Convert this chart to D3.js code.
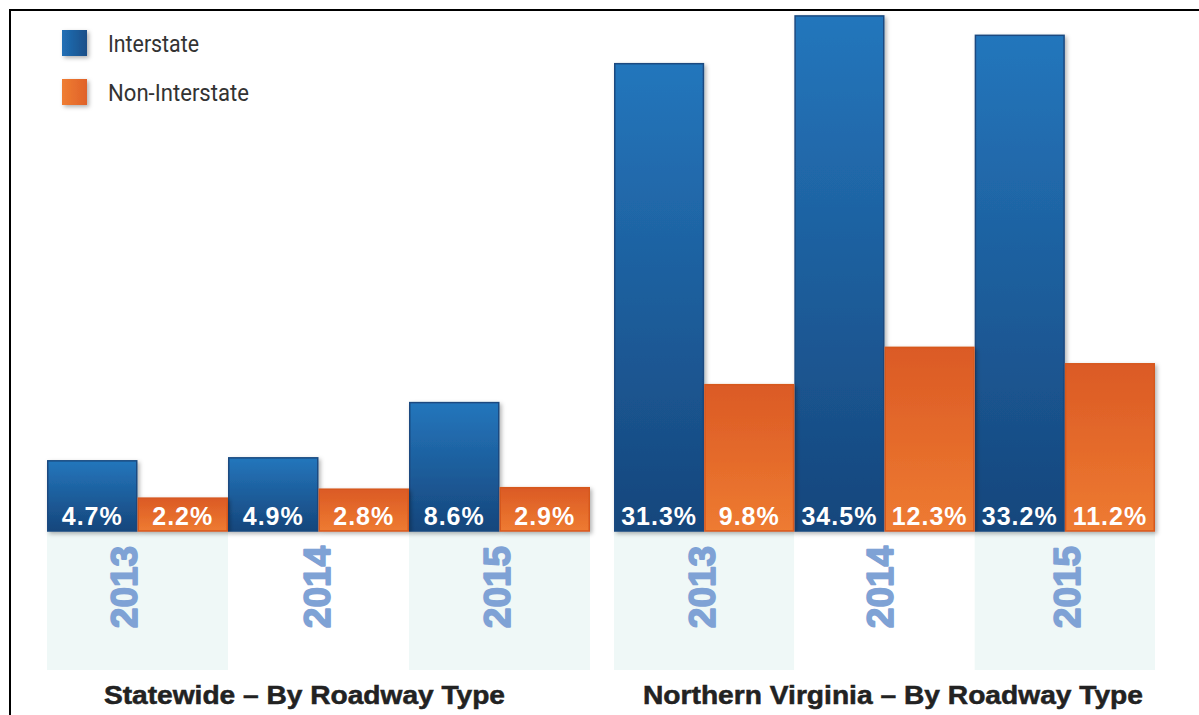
<!DOCTYPE html>
<html><head><meta charset="utf-8">
<script src="https://cdn.jsdelivr.net/npm/d3@7"></script>
<style>html,body{margin:0;padding:0;background:#fff;}svg{display:block;}</style>
</head><body><svg id="c" width="1199" height="715"></svg>
<script>
const years = ["2013", "2014", "2015"];
const seriesNames = ["Interstate", "Non-Interstate"];
const statewideInterstate = [4.7, 4.9, 8.6];
const statewideNonInterstate = [2.2, 2.8, 2.9];
const novaInterstate = [31.3, 34.5, 33.2];
const novaNonInterstate = [9.8, 12.3, 11.2];
const panelTitles = ["Statewide \u2013 By Roadway Type", "Northern Virginia \u2013 By Roadway Type"];

const panels = [
  {title: panelTitles[0], values: [statewideInterstate, statewideNonInterstate], x0: 47, x1: 590, tx: 304.5, tw: 401, yOff: [-14, -2, -3]},
  {title: panelTitles[1], values: [novaInterstate, novaNonInterstate], x0: 614, x1: 1155, tx: 893, tw: 500, yOff: [-2, -5, 2]}
];

const svg = d3.select("#c");
const defs = svg.append("defs");
const gb = defs.append("linearGradient").attr("id","gBlue").attr("x1",0).attr("y1",0).attr("x2",0).attr("y2",1);
gb.append("stop").attr("offset","0%").attr("stop-color","#2476bc");
gb.append("stop").attr("offset","100%").attr("stop-color","#16467c");
const go = defs.append("linearGradient").attr("id","gOrange").attr("x1",0).attr("y1",0).attr("x2",0).attr("y2",1);
go.append("stop").attr("offset","0%").attr("stop-color","#db5a25");
go.append("stop").attr("offset","100%").attr("stop-color","#ee7b31");
const gbl = defs.append("linearGradient").attr("id","gBlueL").attr("x1",0).attr("y1",0).attr("x2",1).attr("y2",0);
gbl.append("stop").attr("offset","0%").attr("stop-color","#2170b6");
gbl.append("stop").attr("offset","100%").attr("stop-color","#1a4f88");
const gol = defs.append("linearGradient").attr("id","gOrangeL").attr("x1",0).attr("y1",0).attr("x2",1).attr("y2",0);
gol.append("stop").attr("offset","0%").attr("stop-color","#ef7d31");
gol.append("stop").attr("offset","100%").attr("stop-color","#e0622a");
const f = defs.append("filter").attr("id","sh").attr("x","-20%").attr("y","-20%").attr("width","150%").attr("height","150%");
f.append("feDropShadow").attr("dx",2).attr("dy",2).attr("stdDeviation",2).attr("flood-color","#000").attr("flood-opacity",0.3);

const fills = ["url(#gBlue)", "url(#gOrange)"];
const strokes = ["#1a4a80", "#d6581f"];

const baseY = 531;
const y = d3.scaleLinear().domain([0, 35]).range([baseY, baseY - 35 * 14.93]);

panels.forEach(p => {
  const x = d3.scaleBand().domain(years).range([p.x0, p.x1]).padding(0);
  const xs = d3.scaleBand().domain(seriesNames).range([0, x.bandwidth()]).padding(0);
  const g = svg.append("g");
  g.selectAll("rect.band").data(years).join("rect")
    .attr("x", d => x(d)).attr("y", baseY).attr("width", x.bandwidth()).attr("height", 139)
    .attr("fill", (d, i) => i === 1 ? "#ffffff" : "#eff8f7");
  g.selectAll("text.yr").data(years).join("text")
    .attr("transform", (d, i) => `translate(${x(d) + x.bandwidth() / 2 + 13 + p.yOff[i]},587) rotate(-90)`)
    .attr("text-anchor", "middle")
    .attr("font-family", "Liberation Sans, Arial, sans-serif")
    .attr("font-weight", "bold").attr("font-size", 37)
    .attr("stroke", "#7fa2d5").attr("stroke-width", 1.6).attr("stroke-linejoin", "round")
    .attr("fill", "#7fa2d5").text(d => d);
  seriesNames.forEach((s, si) => {
    g.selectAll("rect.b" + si).data(p.values[si]).join("rect")
      .attr("x", (d, i) => x(years[i]) + xs(s) + 0.75)
      .attr("y", d => y(d))
      .attr("width", xs.bandwidth() - 1.5)
      .attr("height", d => baseY - y(d))
      .attr("fill", fills[si]).attr("stroke", strokes[si]).attr("stroke-width", 1.5)
      .attr("filter", "url(#sh)");
  });
  seriesNames.forEach((s, si) => {
    g.selectAll("text.v" + si).data(p.values[si]).join("text")
      .attr("x", (d, i) => x(years[i]) + xs(s) + xs.bandwidth() / 2)
      .attr("y", 525)
      .attr("text-anchor", "middle")
      .attr("font-family", "Liberation Sans, Arial, sans-serif")
      .attr("font-weight", "bold").attr("font-size", 25)
      .attr("letter-spacing", 1)
      .attr("fill", "#ffffff").text(d => d.toFixed(1) + "%");
  });
  g.append("text").attr("x", p.tx - p.tw / 2).attr("y", 704)
    .attr("font-family", "Liberation Sans, Arial, sans-serif")
    .attr("font-weight", "bold").attr("font-size", 25)
    .attr("textLength", p.tw).attr("lengthAdjust", "spacingAndGlyphs")
    .attr("stroke", "#222222").attr("stroke-width", 0.5)
    .attr("fill", "#222222").text(p.title);
});

const lg = svg.append("g");
const legFills = ["url(#gBlueL)", "url(#gOrangeL)"];
const legLen = [91, 141];
seriesNames.forEach((s, i) => {
  lg.append("rect").attr("x", 62).attr("y", 30 + i * 49).attr("width", 25).attr("height", 26)
    .attr("fill", legFills[i]).attr("filter", "url(#sh)");
  lg.append("text").attr("x", 108).attr("y", 52 + i * 49)
    .attr("font-family", "Roboto, sans-serif").attr("font-size", 23)
    .attr("textLength", legLen[i]).attr("lengthAdjust", "spacingAndGlyphs")
    .attr("fill", "#333333").text(s);
});

svg.append("path").attr("d", "M10,715 V10 H1199").attr("fill", "none").attr("stroke", "#000").attr("stroke-width", 2);
</script></body></html>
